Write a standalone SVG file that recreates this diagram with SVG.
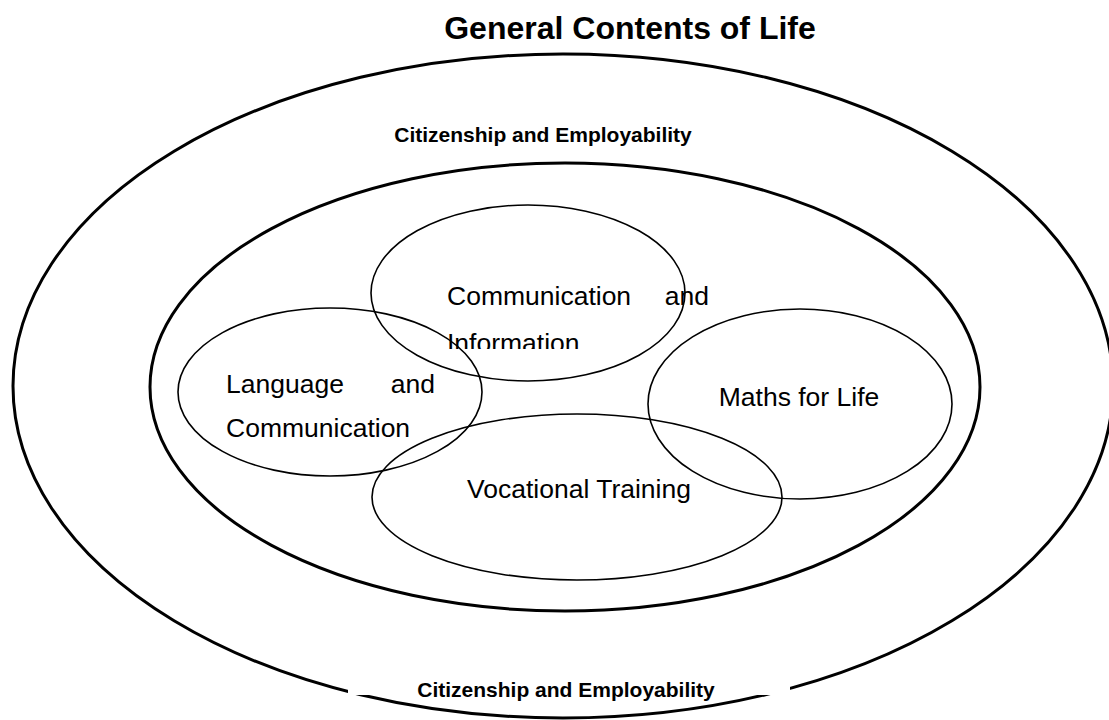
<svg xmlns="http://www.w3.org/2000/svg" width="1109" height="720" viewBox="0 0 1109 720">
  <style>
    .ring { fill: none; stroke: #000; stroke-width: 3; }
    .area { fill: none; stroke: #000; stroke-width: 1.6; }
    .label { font-family: "Liberation Sans", Arial, sans-serif; font-size: 26.5px; fill: #000; }
    .head { font-family: "Liberation Sans", Arial, sans-serif; font-weight: bold; fill: #000; }
  </style>
  <defs>
    <clipPath id="infoClip">
      <rect x="440" y="258" width="280" height="91"/>
    </clipPath>
  </defs>
  <rect width="1109" height="720" fill="#fff"/>

  <!-- outer band -->
  <g id="outer">
    <ellipse class="ring" cx="563" cy="386" rx="550" ry="332"/>
    <!-- text box of the lower label hides the top half of the ring line -->
    <rect x="348" y="650" width="442" height="45" fill="#fff"/>
  </g>

  <g id="title">
    <text class="head" x="630" y="39" font-size="32" text-anchor="middle">General Contents of Life</text>
  </g>

  <g id="citizenship-top">
    <text class="head" x="543" y="142" font-size="21" text-anchor="middle">Citizenship and Employability</text>
  </g>
  <g id="citizenship-bottom">
    <text class="head" x="566" y="697" font-size="21" text-anchor="middle">Citizenship and Employability</text>
  </g>

  <!-- inner band -->
  <g id="inner">
    <ellipse class="ring" cx="565" cy="387" rx="415" ry="224"/>
  </g>

  <g id="communication-information">
    <ellipse class="area" cx="528" cy="293" rx="157" ry="88"/>
    <g clip-path="url(#infoClip)">
      <text class="label" x="447" y="305">Communication</text>
      <text class="label" x="709" y="305" text-anchor="end">and</text>
      <text class="label" x="447" y="352">Information</text>
    </g>
  </g>

  <g id="language-communication">
    <ellipse class="area" cx="330" cy="392" rx="152" ry="84"/>
    <text class="label" x="226" y="393">Language</text>
    <text class="label" x="435" y="393" text-anchor="end">and</text>
    <text class="label" x="226" y="437">Communication</text>
  </g>

  <g id="maths">
    <ellipse class="area" cx="800" cy="404" rx="152" ry="95"/>
    <text class="label" x="799" y="406" text-anchor="middle">Maths for Life</text>
  </g>

  <g id="vocational">
    <ellipse class="area" cx="577" cy="497" rx="205" ry="83"/>
    <text class="label" x="579" y="498" text-anchor="middle">Vocational Training</text>
  </g>
</svg>
